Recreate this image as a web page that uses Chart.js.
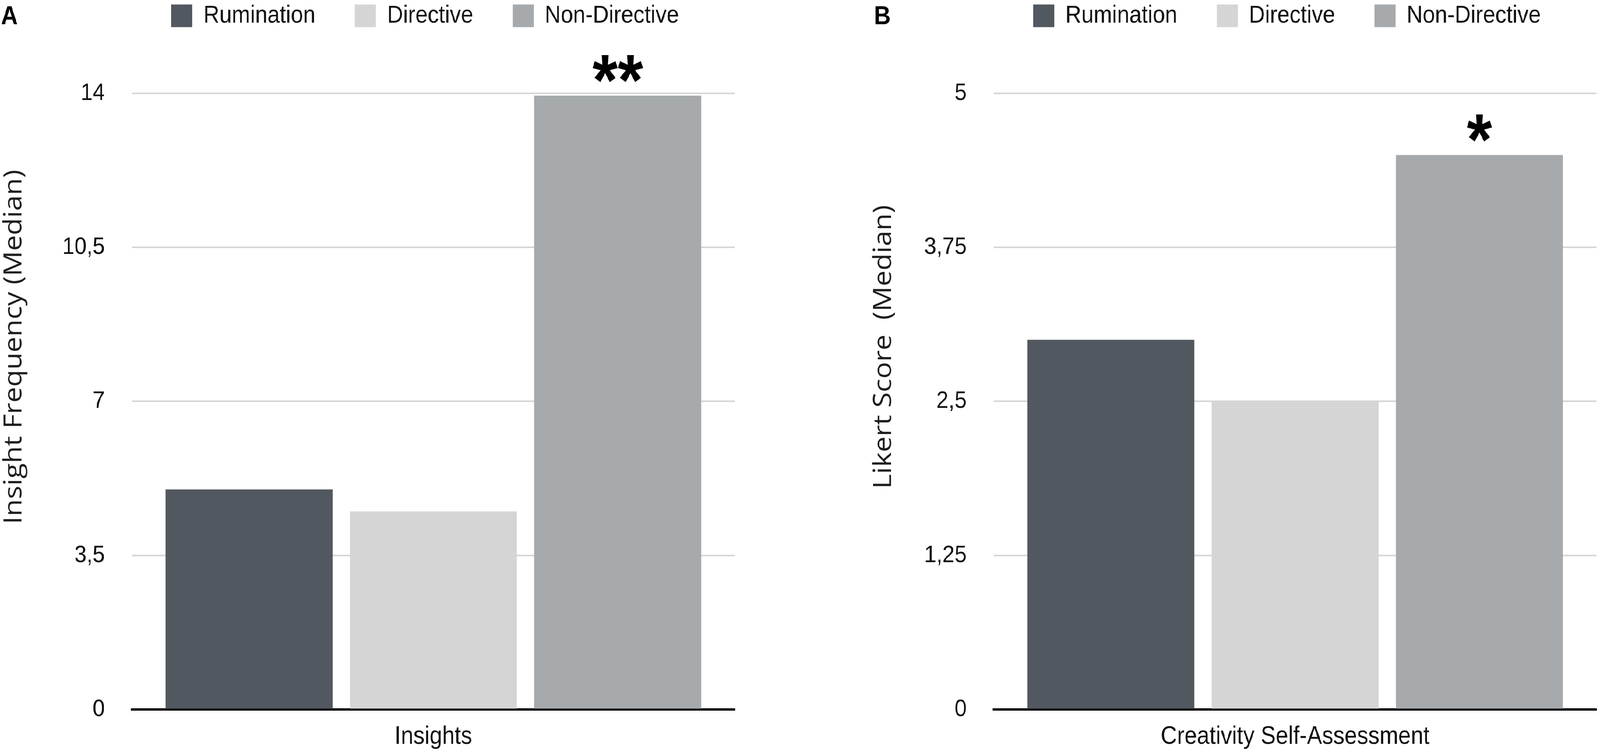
<!DOCTYPE html>
<html>
<head>
<meta charset="utf-8">
<script src="https://cdn.jsdelivr.net/npm/chart.js@4.4.0/dist/chart.umd.min.js"></script>
<style>
  html, body { margin: 0; padding: 0; background: #fff; overflow: hidden; }
  body { width: 4550px; height: 1930px; position: relative; transform-origin: 0 0; }
  .panel { position: absolute; top: 0; height: 1930px; }
  #panelA { left: 0; width: 2100px; }
  #panelB { left: 2451px; width: 2099px; }
</style>
</head>
<body>
<div class="panel" id="panelA"><canvas id="chartA" width="2100" height="1930"></canvas></div>
<div class="panel" id="panelB"><canvas id="chartB" width="2099" height="1930"></canvas></div>
<script>
// groups shared by both panels
const groups = ['Rumination', 'Directive', 'Non-Directive'];
const groupColors = ['#52585f', '#d5d5d5', '#a6aaad'];

// panel A - insight frequency
const categoriesA = ['Insights'];
const valuesA = [5, 4.5, 13.95];
const yTicksA = [0, 3.5, 7, 10.5, 14];
const starsA = ['', '', '**'];

// panel B - creativity self-assessment
const categoriesB = ['Creativity Self-Assessment'];
const valuesB = [3, 2.5, 4.5];
const yTicksB = [0, 1.25, 2.5, 3.75, 5];
const starsB = ['', '', '*'];

const tickFont = 'Liberation Sans';

// the figure is laid out at 4550x1930; squeeze it into whatever window we get
const fitX = window.innerWidth / 4550;
const fitY = window.innerHeight / 1930;
document.body.style.transform = 'scale(' + fitX + ',' + fitY + ')';

// panel letter, rotated y title and significance stars
const extras = {
  id: 'extras',
  afterDraw(chart, args, opts) {
    const ctx = chart.ctx;
    ctx.save();
    ctx.fillStyle = '#000';
    ctx.font = 'bold 66px "Liberation Sans"';
    ctx.textAlign = 'left';
    ctx.textBaseline = 'alphabetic';
    ctx.fillText(opts.letter, opts.letterX, 62);

    ctx.save();
    ctx.fillStyle = '#1e1e1e';
    ctx.translate(opts.titleX, opts.titleY);
    ctx.rotate(-Math.PI / 2);
    ctx.font = '72px "Open Sans"';
    ctx.textAlign = 'center';
    ctx.textBaseline = 'middle';
    ctx.fillText(opts.title, 0, 0);
    ctx.restore();

    ctx.font = 'bold 185px "Liberation Sans"';
    ctx.textAlign = 'center';
    ctx.textBaseline = 'alphabetic';
    chart.data.datasets.forEach((ds, i) => {
      const s = opts.stars[i];
      if (!s) return;
      const bar = chart.getDatasetMeta(i).data[0];
      const m = ctx.measureText(s);
      ctx.fillText(s, bar.x, bar.y - 34 - m.actualBoundingBoxDescent);
    });
    ctx.restore();
  }
};

function makeChart(id, categories, values, yTicks, stars, letter, letterX, title, titleX) {
  return new Chart(document.getElementById(id), {
    type: 'bar',
    data: {
      labels: categories,
      datasets: groups.map((g, i) => ({
        label: g,
        data: [values[i]],
        backgroundColor: groupColors[i],
        borderWidth: 0,
        barPercentage: 0.906,
        categoryPercentage: 0.917
      }))
    },
    options: {
      responsive: false,
      animation: false,
      events: [],
      layout: { padding: { top: -103, right: 10, bottom: -30, left: 0 } },
      plugins: {
        legend: {
          position: 'top',
          align: 'start',
          fullSize: false,
          labels: {
            boxWidth: 60,
            boxHeight: 58,
            padding: 112,
            color: '#111',
            font: { family: tickFont, size: 63 }
          }
        },
        // empty block that keeps the gap between legend and plot
        title: {
          display: true,
          text: '',
          weight: 500,
          font: { size: 10, lineHeight: 1 },
          padding: { top: 0, bottom: 147 }
        },
        tooltip: { enabled: false },
        extras: { letter, letterX, title, titleX, titleY: 888, stars }
      },
      scales: {
        x: {
          grid: { display: false, drawTicks: false },
          border: { display: true, color: '#000', width: 6 },
          ticks: {
            padding: 39,
            color: '#111',
            font: { family: tickFont, size: 64, lineHeight: 1 }
          }
        },
        y: {
          min: yTicks[0],
          max: yTicks[yTicks.length - 1],
          afterBuildTicks(scale) {
            scale.ticks = yTicks.map(v => ({ value: v }));
          },
          afterFit(scale) {
            scale.width = 375;
          },
          grid: { color: '#d6d6d6', lineWidth: 4, drawTicks: false },
          border: { display: false },
          ticks: {
            padding: 77,
            color: '#111',
            font: { family: tickFont, size: 62 },
            callback: v => String(v).replace('.', ',')
          }
        }
      }
    },
    plugins: [extras]
  });
}

makeChart('chartA', categoriesA, valuesA, yTicksA, starsA, 'A', 3, 'Insight Frequency (Median)', 40);
makeChart('chartB', categoriesB, valuesB, yTicksB, starsB, 'B', 34, 'Likert Score  (Median)', 62);
</script>
</body>
</html>
